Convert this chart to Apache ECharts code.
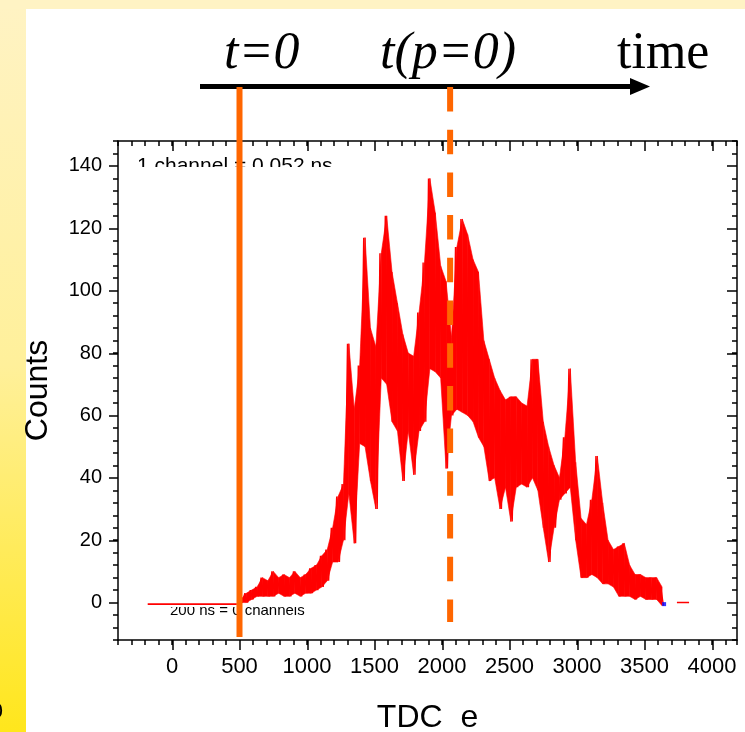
<!DOCTYPE html>
<html><head><meta charset="utf-8">
<script src="https://cdn.jsdelivr.net/npm/echarts@6/dist/echarts.min.js"></script>
<style>html,body{margin:0;padding:0;background:#fff;}#c{width:745px;height:732px;}</style>
</head><body><div id="c"></div>
<script>
// ---- data ----
const flatChannels = [-180, 480];
const flatCounts = [-0.5, -0.5];
const noiseStart = 500;      // first channel of the noisy spectrum
const noiseStep = 40;        // channels between successive peak readings (dip read half-way)
const peakCounts = [1,3,4,5,8,7,10,8,9,8, 10,8,9,11,12,15,17,24,34,38,
  83,62,76,117,88,82,112,124,106,96, 86,80,79,93,109,136,125,108,103,85,
  114,123,118,110,106,84,78,72,68,65, 66,66,64,63,78,78,58,50,44,40,
  53,75,45,27,25,33,47,32,20,17, 18,19,12,9,9,8,8,8,5];
const dipCounts = [0,0,1,2,2,2,2,3,2,2, 3,2,3,3,4,5,7,13,13,20,
  35,19,51,50,39,30,72,70,58,55, 39,55,41,55,58,75,74,72,43,60,
  62,61,60,58,53,50,39,40,30,37, 26,37,38,37,40,36,24,13,24,33,
  35,37,20,8,8,9,8,6,6,5, 2,2,2,1,2,1,1,1,-1];
const tailChannels = [3740, 3830];
const tailCounts = [0, 0];
const endMarker = [3645, -0.5];
const xLabelValues = [0,500,1000,1500,2000,2500,3000,3500,4000];
const yLabelValues = [0,20,40,60,80,100,120,140];
const t0Channel = 500;
const tp0Channel = 2060;

// ---- build series ----
const flat = flatChannels.map((c, i) => [c, flatCounts[i]]);
const spectrum = [];
peakCounts.forEach((p, i) => {
  spectrum.push([noiseStart + i * noiseStep, p]);
  spectrum.push([noiseStart + i * noiseStep + noiseStep / 2, dipCounts[i]]);
});
// band segments between consecutive readings: [x0, dip0, peak0, x1, dip1, peak1]
const bandSegments = [];
for (let i = 0; i + 1 < peakCounts.length; i++) {
  const x0 = noiseStart + i * noiseStep + noiseStep / 4;
  bandSegments.push([x0, dipCounts[i], peakCounts[i], x0 + noiseStep, dipCounts[i + 1], peakCounts[i + 1]]);
}
const tail = tailChannels.map((c, i) => [c, tailCounts[i]]);

const SANS = "'Liberation Sans', Arial, sans-serif";
const SERIF = "'Liberation Serif', 'Times New Roman', serif";
const AX = { lineStyle: { color: '#000', width: 1.5 } };
const tickStyle = { color: '#000', width: 1.5 };

const chart = echarts.init(document.getElementById('c'), null, { renderer: 'canvas' });
const g0 = { left: 118, right: 8, top: 141, bottom: 92, containLabel: false, outerBoundsMode: 'none' };
const g1 = { left: 172.5, right: 32.5, top: 166, bottom: 129, containLabel: false, outerBoundsMode: 'none' };

const option = {
  backgroundColor: '#ffffff',
  animation: false,
  grid: [g0, g1],
  xAxis: [
    { gridIndex: 0, type: 'value', position: 'bottom', min: -400, max: 4185, interval: 100,
      axisLine: Object.assign({ show: true, onZero: false }, AX),
      axisTick: { show: true, length: 5, lineStyle: tickStyle },
      splitLine: { show: false },
      axisLabel: { show: true, margin: 16, fontSize: 22, color: '#000', fontFamily: SANS,
        showMinLabel: true, showMaxLabel: true,
        formatter: v => xLabelValues.includes(Math.round(v)) ? String(Math.round(v)) : '' },
      name: 'TDC  e', nameLocation: 'middle', nameGap: 62,
      nameTextStyle: { fontSize: 32, color: '#000', fontFamily: SANS } },
    { gridIndex: 0, type: 'value', position: 'top', min: -400, max: 4185, interval: 100,
      axisLine: Object.assign({ show: true, onZero: false }, AX),
      axisTick: { show: true, inside: true, length: 5, lineStyle: tickStyle },
      splitLine: { show: false }, axisLabel: { show: false } },
    { gridIndex: 1, type: 'value', position: 'bottom', min: 0, max: 4000, interval: 500, offset: 37,
      axisLine: { show: false, onZero: false },
      axisTick: { show: true, length: 10, lineStyle: tickStyle },
      splitLine: { show: false }, axisLabel: { show: false } },
    { gridIndex: 1, type: 'value', position: 'top', min: 0, max: 4000, interval: 500, offset: 25,
      axisLine: { show: false, onZero: false },
      axisTick: { show: true, inside: true, length: 10, lineStyle: tickStyle },
      splitLine: { show: false }, axisLabel: { show: false } }
  ],
  yAxis: [
    { gridIndex: 0, type: 'value', position: 'left', min: -12, max: 148, interval: 4,
      axisLine: Object.assign({ show: true, onZero: false }, AX),
      axisTick: { show: true, length: 5, lineStyle: tickStyle },
      splitLine: { show: false },
      axisLabel: { show: true, margin: 16, fontSize: 20, color: '#000', fontFamily: SANS,
        showMinLabel: true, showMaxLabel: true,
        formatter: v => yLabelValues.includes(Math.round(v)) ? String(Math.round(v)) : '' },
      name: 'Counts', nameLocation: 'middle', nameGap: 64, nameRotate: 90,
      nameTextStyle: { fontSize: 32, color: '#000', fontFamily: SANS } },
    { gridIndex: 0, type: 'value', position: 'right', min: -12, max: 148, interval: 4,
      axisLine: Object.assign({ show: true, onZero: false }, AX),
      axisTick: { show: true, inside: true, length: 5, lineStyle: tickStyle },
      splitLine: { show: false }, axisLabel: { show: false } },
    { gridIndex: 1, type: 'value', position: 'left', min: 0, max: 140, interval: 20, offset: 54.5,
      axisLine: { show: false, onZero: false },
      axisTick: { show: true, length: 9, lineStyle: tickStyle },
      splitLine: { show: false }, axisLabel: { show: false } },
    { gridIndex: 1, type: 'value', position: 'right', min: 0, max: 140, interval: 20, offset: 24.5,
      axisLine: { show: false, onZero: false },
      axisTick: { show: true, inside: true, length: 10, lineStyle: tickStyle },
      splitLine: { show: false }, axisLabel: { show: false } }
  ],
  series: [
    { type: 'line', xAxisIndex: 0, yAxisIndex: 0, data: flat, showSymbol: false, symbol: 'none',
      z: 3, lineStyle: { color: '#ff0000', width: 1.8 } },
    { type: 'custom', xAxisIndex: 0, yAxisIndex: 0, data: bandSegments, z: 3,
      encode: { x: [0, 3], y: [1, 2, 4, 5] },
      renderItem: function (params, api) {
        const a = api.coord([api.value(0), api.value(2)]);
        const b = api.coord([api.value(3), api.value(5)]);
        const c = api.coord([api.value(3), api.value(4)]);
        const d = api.coord([api.value(0), api.value(1)]);
        return { type: 'polygon', shape: { points: [a, b, c, d] },
          style: { fill: '#ff0000', stroke: '#ff0000', lineWidth: 0.6 } };
      } },
    { type: 'line', xAxisIndex: 0, yAxisIndex: 0, data: spectrum, showSymbol: false, symbol: 'none',
      z: 4, lineStyle: { color: '#ff0000', width: 1.4, join: 'bevel', cap: 'butt' } },
    { type: 'line', xAxisIndex: 0, yAxisIndex: 0, data: tail, showSymbol: false, symbol: 'none',
      z: 3, lineStyle: { color: '#ff0000', width: 1.5 } },
    { type: 'scatter', xAxisIndex: 0, yAxisIndex: 0, data: [endMarker], symbol: 'rect', symbolSize: [4, 4],
      z: 5, itemStyle: { color: '#0000ff' } }
  ]
};
chart.setOption(option);

const xA = chart.convertToPixel({ xAxisIndex: 0 }, t0Channel);
const xB = chart.convertToPixel({ xAxisIndex: 0 }, tp0Channel);

chart.setOption({
  graphic: [
    { type: 'rect', id: 'bgLeft', z: -5, shape: { x: 0, y: 0, width: 26, height: 732 },
      style: { fill: new echarts.graphic.LinearGradient(0, 0, 0, 1, [
        { offset: 0, color: '#fff3c4' }, { offset: 0.5, color: '#fff09a' }, { offset: 1, color: '#ffe61c' }]) } },
    { type: 'rect', id: 'bgTop', z: -5, shape: { x: 0, y: 0, width: 745, height: 9 }, style: { fill: '#fff3c4' } },
    { type: 'text', id: 'cut0', z: -4, style: { x: 3, y: 712, text: '0', font: '22px ' + SANS, fill: '#000', align: 'right', verticalAlign: 'middle' } },
    // in-plot notes (partly hidden)
    { type: 'text', id: 'note1', z: 1, style: { x: 137, y: 166, text: '1 channel = 0.052 ns', font: '21px ' + SANS, fill: '#000', align: 'left', verticalAlign: 'middle' } },
    { type: 'rect', id: 'mask1', z: 1.5, shape: { x: 130, y: 167, width: 220, height: 14 }, style: { fill: '#fff' } },
    { type: 'text', id: 'note2', z: 1, style: { x: 170, y: 611, text: '200 ns = 0 channels', font: '15px ' + SANS, fill: '#000', align: 'left', verticalAlign: 'middle' } },
    { type: 'rect', id: 'mask2', z: 1.5, shape: { x: 165, y: 598, width: 150, height: 9 }, style: { fill: '#fff' } },
    // time arrow
    { type: 'line', id: 'arrowShaft', z: 10, shape: { x1: 200, y1: 86.5, x2: 636, y2: 86.5 }, style: { stroke: '#000', lineWidth: 5 } },
    { type: 'polygon', id: 'arrowHead', z: 10, shape: { points: [[630, 78], [650, 86.5], [630, 95]] }, style: { fill: '#000' } },
    { type: 'text', id: 'lblT0', z: 10, style: { x: 224, y: 54, text: 't=0', font: 'italic 52px ' + SERIF, fill: '#000', align: 'left', verticalAlign: 'middle' } },
    { type: 'text', id: 'lblTp', z: 10, style: { x: 380, y: 54, text: 't(p=0)', font: 'italic 52px ' + SERIF, fill: '#000', align: 'left', verticalAlign: 'middle' } },
    { type: 'text', id: 'lblTime', z: 10, style: { x: 617, y: 54, text: 'time', font: '52px ' + SERIF, fill: '#000', align: 'left', verticalAlign: 'middle' } },
    // orange markers
    { type: 'line', id: 'lineT0', z: 12, shape: { x1: xA, y1: 87, x2: xA, y2: 637 }, style: { stroke: '#ff6600', lineWidth: 6 } },
    { type: 'line', id: 'lineTp', z: 12, shape: { x1: xB, y1: 87, x2: xB, y2: 622 }, style: { stroke: '#ff6600', lineWidth: 6, lineDash: [24.5, 18.2] } }
  ]
});
</script></body></html>
